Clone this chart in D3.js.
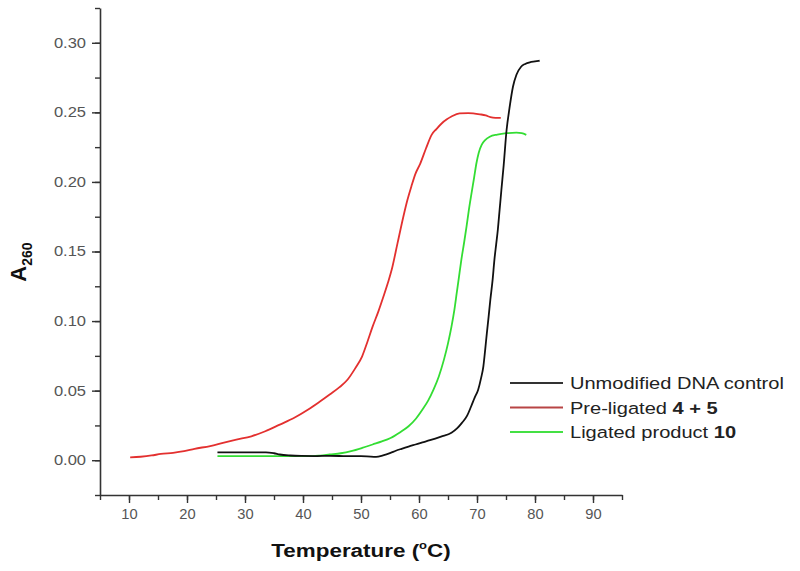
<!DOCTYPE html>
<html>
<head>
<meta charset="utf-8">
<script src="https://d3js.org/d3.v7.min.js"></script>
<style>
body { margin: 0; background: #fff; }
text { font-family: "Liberation Sans", Arial, sans-serif; }
</style>
</head>
<body>
<div id="chart"></div>
<script>
// melting curves
var unmodT = [25.25, 30, 33.6, 35, 36.0, 37.8, 39.7, 42, 44.6, 47, 49.6, 51, 52.6, 53.8, 55.1, 56, 57.0, 58.2, 59.4, 60.6, 61.9, 63.8, 65.6, 66.6, 67.4, 68.3, 69.0, 69.6, 70.2, 70.7, 71.1, 71.4, 71.7, 72.0, 72.3, 72.7, 73.0, 73.3, 73.6, 73.9, 74.2, 74.6, 75.1, 75.6, 76.2, 76.8, 77.6, 78.3, 79.1, 80.0, 80.8];
var unmodA = [.0057, .0057, .0057, .005, .0041, .0034, .0031, .003, .0031, .003, .0029, .0028, .0024, .0035, .0053, .0068, .0082, .0098, .0113, .0128, .0144, .017, .0197, .023, .0268, .032, .0388, .045, .0507, .059, .0675, .079, .0914, .103, .1153, .130, .144, .155, .166, .180, .194, .212, .2373, .253, .2684, .277, .2828, .2848, .286, .2866, .2871];

var preT = [10.2, 12, 13.9, 15.5, 17.6, 19.5, 21.3, 24, 26.2, 28.5, 31.1, 33.5, 36.0, 38.5, 40.9, 42.8, 44.6, 46.3, 47.7, 49, 50.2, 51.1, 52.0, 53.0, 53.9, 54.6, 55.3, 56.3, 57.3, 58.0, 58.7, 59.4, 60.2, 61.2, 62.2, 63.0, 63.9, 64.8, 65.6, 67.0, 68.5, 70.5, 71.5, 72.3, 73.2, 74.1];
var preA = [.002, .0025, .0034, .0045, .0053, .0065, .0082, .0102, .0125, .0148, .0172, .0208, .0256, .0305, .0364, .0418, .0472, .0525, .058, .066, .0747, .085, .096, .107, .118, .127, .137, .156, .175, .187, .197, .206, .213, .224, .234, .238, .242, .245, .247, .2493, .2495, .2486, .2478, .2465, .246, .246];

var ligT = [25.25, 30, 35, 41.6, 43, 44.6, 46.5, 48.3, 50.2, 52.0, 53.6, 55.1, 56.7, 58.2, 59.5, 60.6, 61.6, 62.5, 63.4, 64.3, 65.0, 65.6, 66.1, 66.5, 66.9, 67.3, 67.8, 68.2, 68.6, 69.06, 69.5, 69.9, 70.3, 70.8, 71.4, 72.2, 73.5, 75.1, 76.8, 77.7, 78.5];
var ligA = [.0029, .0029, .0029, .0029, .0033, .0041, .005, .0065, .0088, .0113, .0135, .016, .020, .0244, .030, .0364, .043, .0507, .060, .0723, .084, .096, .108, .120, .132, .144, .157, .168, .180, .192, .203, .2134, .221, .2266, .230, .2325, .234, .235, .2354, .235, .2338];

var xTicks = [10, 20, 30, 40, 50, 60, 70, 80, 90];
var yTicks = [0, 0.05, 0.10, 0.15, 0.20, 0.25, 0.30];

var width = 800, height = 571;
var margin = {top: 8, right: 178, bottom: 76, left: 100};
var stretch = 1.18; // picture is a bit wide, text is too

var svg = d3.select("#chart").append("svg")
	.attr("width", width)
	.attr("height", height);

var x = d3.scaleLinear().domain([5, 95]).range([margin.left, width - margin.right]);
var y = d3.scaleLinear().domain([-0.025, 0.325]).range([height - margin.bottom, margin.top]);

// minor ticks first, then majors with labels
var xMinor = d3.range(5, 96, 5);
var yMinor = d3.range(-0.025, 0.326, 0.025);

svg.append("g")
	.attr("transform", "translate(0," + y.range()[0] + ")")
	.call(d3.axisBottom(x).tickValues(xMinor).tickSize(5).tickFormat(""))
	.call(function(g) { g.select(".domain").remove(); });
svg.append("g")
	.attr("transform", "translate(" + x.range()[0] + ",0)")
	.call(d3.axisLeft(y).tickValues(yMinor).tickSize(5).tickFormat(""))
	.call(function(g) { g.select(".domain").remove(); });

var gx = svg.append("g")
	.attr("transform", "translate(0," + y.range()[0] + ")")
	.call(d3.axisBottom(x).tickValues(xTicks).tickSize(8).tickSizeOuter(0).tickPadding(6).tickFormat(d3.format("d")));
var gy = svg.append("g")
	.attr("transform", "translate(" + x.range()[0] + ",0)")
	.call(d3.axisLeft(y).tickValues(yTicks).tickSize(8).tickSizeOuter(0).tickPadding(6).tickFormat(d3.format(".2f")));

svg.selectAll(".tick line").attr("stroke", "#333").attr("stroke-width", 1.4);
svg.selectAll(".domain").attr("stroke", "#333").attr("stroke-width", 1.6);
svg.selectAll(".tick text")
	.attr("font-size", 14)
	.attr("fill", "#555");
gx.selectAll(".tick text").attr("transform", "scale(1.05,1)");
gy.selectAll(".tick text")
	.attr("x", -14 / stretch)
	.attr("transform", "scale(" + stretch + ",1)");

// curves
var line = d3.line()
	.curve(d3.curveMonotoneX)
	.x(function(d) { return x(d[0]); })
	.y(function(d) { return y(d[1]); });

var series = [
	{t: ligT, a: ligA, color: "#33dd33"},
	{t: preT, a: preA, color: "#e3302f"},
	{t: unmodT, a: unmodA, color: "#111111"}
];
series.forEach(function(s) {
	svg.append("path")
		.datum(d3.zip(s.t, s.a))
		.attr("d", line)
		.attr("fill", "none")
		.attr("stroke", s.color)
		.attr("stroke-width", 1.8)
		.attr("stroke-linejoin", "round");
});

// axis titles
var xt = svg.append("text")
	.attr("transform", "translate(361,557) scale(" + stretch + ",1)")
	.attr("text-anchor", "middle")
	.attr("font-size", 19)
	.attr("font-weight", "bold")
	.attr("fill", "#111");
xt.append("tspan").text("Temperature (");
xt.append("tspan").attr("font-size", 11).attr("dy", -8).text("o");
xt.append("tspan").attr("dy", 8).text("C)");

var yt = svg.append("text")
	.attr("transform", "translate(26,262) rotate(-90)")
	.attr("text-anchor", "middle")
	.attr("font-weight", "bold")
	.attr("fill", "#111");
yt.append("tspan").attr("font-size", 22).text("A");
yt.append("tspan").attr("font-size", 14).attr("dy", 6).text("260");

// legend
var legendNames = ["Unmodified DNA control", "Pre-ligated ", "Ligated product "];
var legendBold = ["", "4 + 5", "10"];
var legendColors = ["#333333", "#b84545", "#44e044"];

var leg = svg.append("g");
legendNames.forEach(function(name, i) {
	var cy = 383 + i * 24.5;
	leg.append("line")
		.attr("x1", 510).attr("x2", 563)
		.attr("y1", cy).attr("y2", cy)
		.attr("stroke", legendColors[i])
		.attr("stroke-width", 1.8);
	var t = leg.append("text")
		.attr("transform", "translate(570," + (cy + 6) + ") scale(" + stretch + ",1)")
		.attr("font-size", 17)
		.attr("fill", "#222");
	t.append("tspan").text(name);
	if (legendBold[i]) t.append("tspan").attr("font-weight", "bold").text(legendBold[i]);
});
</script>
</body>
</html>
